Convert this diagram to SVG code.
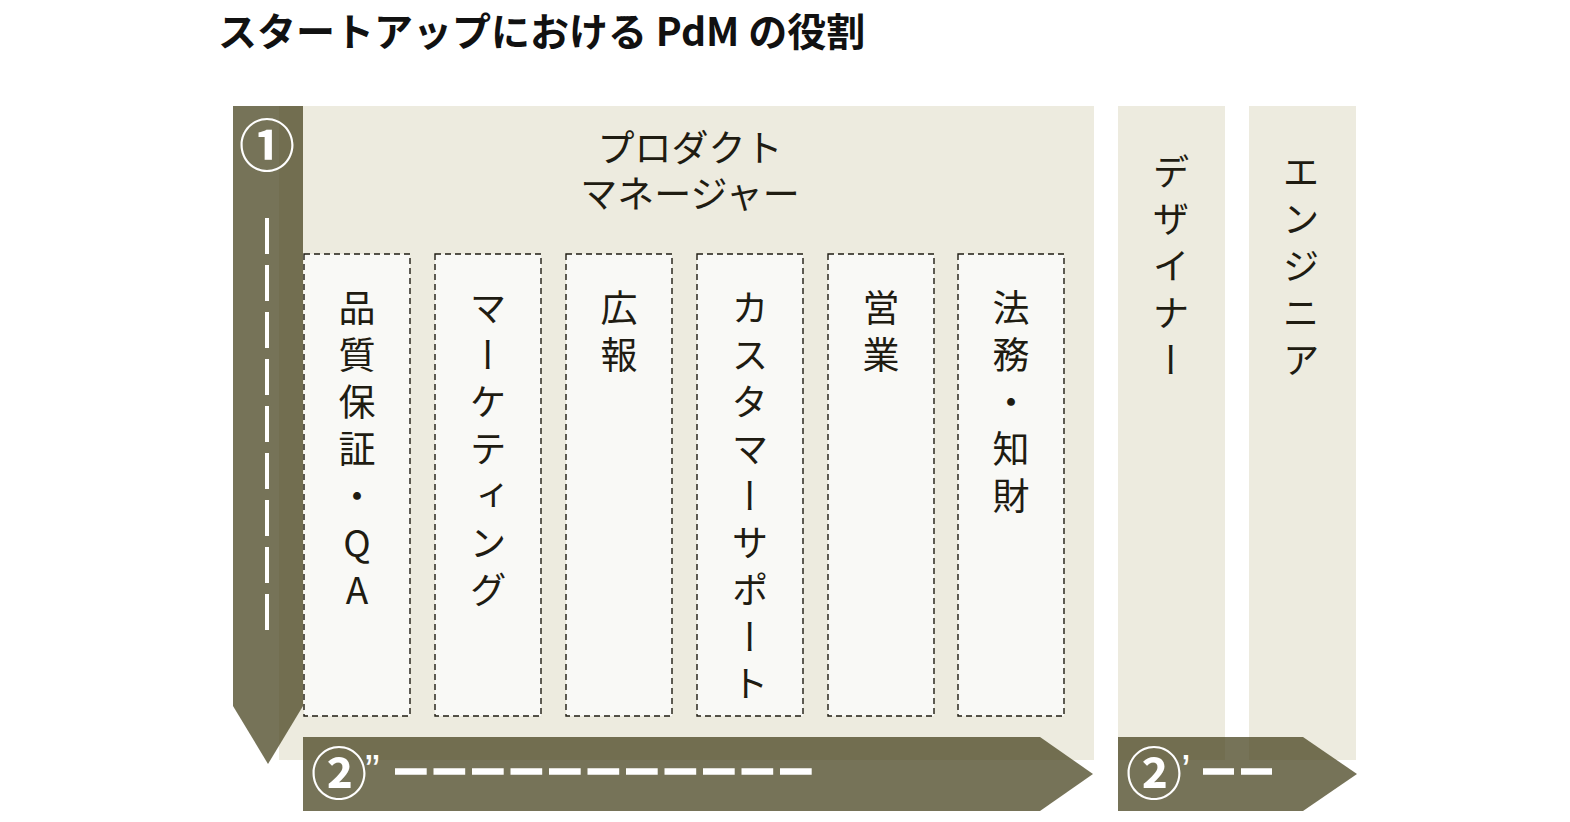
<svg xmlns="http://www.w3.org/2000/svg" width="1570" height="822" viewBox="0 0 1570 822">
<style>
  .jp { font-family: "Noto Sans CJK JP", "Noto Sans", sans-serif; }
  .title { font-size: 39px; font-weight: 700; fill: #111; }
  .head { font-size: 37px; fill: #1f1c12; text-anchor: middle; }
  .v { font-size: 37px; fill: #1f1c12; writing-mode: vertical-rl; text-orientation: upright; letter-spacing: 10px; }
  .panel { fill: #edebdf; }
  .box { fill: #f9f9f6; stroke: #1f1c12; stroke-width: 1.4; stroke-dasharray: 6 4; }
  .arrow { fill: #484420; fill-opacity: 0.75; }
  .dash { stroke: #ffffff; stroke-width: 6.5; fill: none; }
  .num { font-size: 56px; font-weight: 700; fill: #ffffff; text-anchor: middle; }
  .mark { font-size: 44px; fill: #ffffff; font-family: "Liberation Sans", sans-serif; }
</style>
<rect width="1570" height="822" fill="#ffffff"/>
<text class="jp title" x="218" y="46">スタートアップにおける PdM の役割</text>

<g id="pdm">
  <rect class="panel" x="279" y="106" width="815" height="654"/>
  <text class="jp head"><tspan x="690" y="162">プロダクト</tspan><tspan x="690" y="208">マネージャー</tspan></text>
</g>
<g id="designer">
  <rect class="panel" x="1118" y="106" width="107" height="654"/>
  <text class="jp v" x="1171" y="153">デザイナー</text>
</g>
<g id="engineer">
  <rect class="panel" x="1249" y="106" width="107" height="654"/>
  <text class="jp v" x="1301" y="153">エンジニア</text>
</g>

<g id="qa">
  <rect class="box" x="304" y="254" width="106" height="462"/>
  <text class="jp v" x="357" y="289">品質保証・QA</text>
</g>
<g id="marketing">
  <rect class="box" x="435" y="254" width="106" height="462"/>
  <text class="jp v" x="488" y="289">マーケティング</text>
</g>
<g id="pr">
  <rect class="box" x="566" y="254" width="106" height="462"/>
  <text class="jp v" x="619" y="289">広報</text>
</g>
<g id="cs">
  <rect class="box" x="697" y="254" width="106" height="462"/>
  <text class="jp v" x="750" y="289">カスタマーサポート</text>
</g>
<g id="sales">
  <rect class="box" x="828" y="254" width="106" height="462"/>
  <text class="jp v" x="881" y="289">営業</text>
</g>
<g id="legal">
  <rect class="box" x="958" y="254" width="106" height="462"/>
  <text class="jp v" x="1011" y="289">法務・知財</text>
</g>

<g id="connectors">
  <g id="arrow1">
    <polygon class="arrow" points="233,106 303,106 303,706 268,764 233,706"/>
    <text class="jp num" x="267" y="166">①</text>
    <line class="dash" x1="267" y1="218" x2="267" y2="630" style="stroke-width:4;stroke-dasharray:36 11"/>
  </g>
  <g id="arrow2dd">
    <polygon class="arrow" points="303,737 1040,737 1093,774 1040,811 303,811"/>
    <text class="jp num" x="339" y="794">②</text>
    <text class="mark" x="365" y="786">”</text>
    <line class="dash" x1="395" y1="771.5" x2="812" y2="771.5" style="stroke-dasharray:31.7 6.8"/>
  </g>
  <g id="arrow2d">
    <polygon class="arrow" points="1118,737 1303,737 1357,774 1303,811 1118,811"/>
    <text class="jp num" x="1154" y="794">②</text>
    <text class="mark" x="1181" y="786">’</text>
    <line class="dash" x1="1203" y1="771.5" x2="1272" y2="771.5" style="stroke-dasharray:31 7"/>
  </g>
</g>
</svg>
